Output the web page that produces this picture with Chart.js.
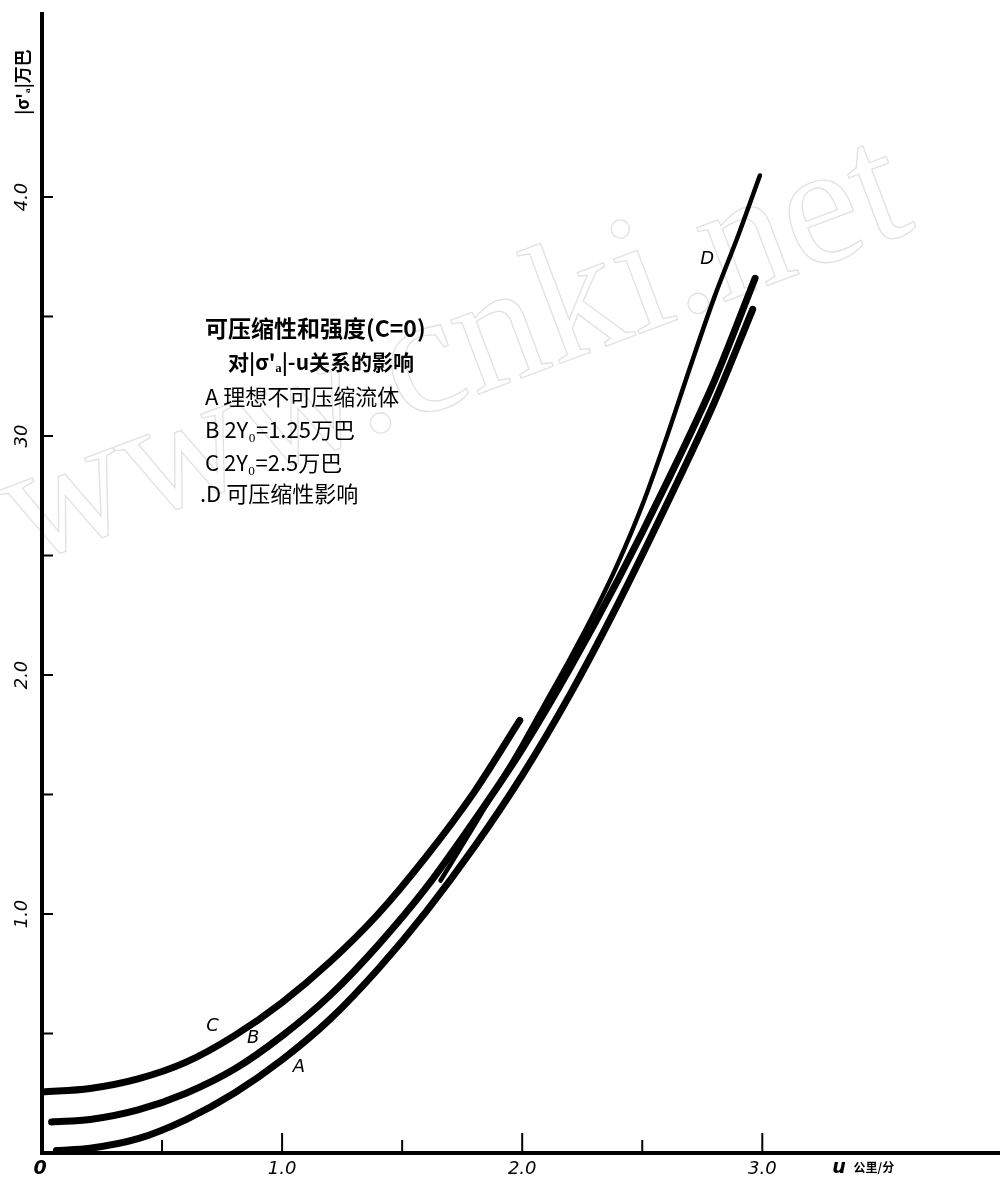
<!DOCTYPE html>
<html>
<head>
<meta charset="utf-8">
<title>可压缩性和强度 |σ|-u</title>
<script src="https://cdn.jsdelivr.net/npm/chart.js@4.4.0/dist/chart.umd.min.js"></script>
<style>
  html, body { margin: 0; padding: 0; background: #fff; }
  #wrap { width: 1000px; height: 1181px; position: relative; }
</style>
</head>
<body>
<div id="wrap"><canvas id="chart" width="1000" height="1181"></canvas></div>
<script>
// curves (u in 公里/分, |σ| in 万巴)
const aX = [0.06, 0.2, 0.4, 0.6, 0.8, 1.0, 1.2, 1.4, 1.6, 1.8, 2.0, 2.2, 2.4, 2.6, 2.8, 2.96];
const aY = [0.01, 0.02, 0.06, 0.14, 0.25, 0.39, 0.56, 0.77, 1.01, 1.28, 1.58, 1.92, 2.30, 2.71, 3.14, 3.53];
const bX = [0.04, 0.2, 0.4, 0.6, 0.8, 1.0, 1.2, 1.4, 1.6, 1.8, 2.0, 2.2, 2.4, 2.6, 2.8, 2.97];
const bY = [0.13, 0.14, 0.18, 0.25, 0.35, 0.49, 0.66, 0.87, 1.11, 1.39, 1.69, 2.03, 2.40, 2.80, 3.23, 3.66];
const cX = [0, 0.2, 0.4, 0.6, 0.8, 1.0, 1.2, 1.4, 1.6, 1.8, 1.99];
const cY = [0.255, 0.27, 0.31, 0.38, 0.49, 0.63, 0.80, 1.00, 1.24, 1.51, 1.81];
const dX = [1.66, 1.8, 1.9, 2.0, 2.1, 2.2, 2.3, 2.4, 2.5, 2.6, 2.7, 2.8, 2.9, 2.99];
const dY = [1.14, 1.37, 1.54, 1.71, 1.89, 2.07, 2.26, 2.47, 2.71, 2.99, 3.29, 3.58, 3.84, 4.09];

const xTickVals = [1, 2, 3];
const xTickLabels = ["1.0", "2.0", "3.0"];
const xMinorVals = [0.5, 1.5, 2.5];
const yTickVals = [1, 2, 3, 4];
const yTickLabels = ["1.0", "2.0", "30", "4.0"];
const yMinorVals = [0.5, 1.5, 2.5, 3.5];

const curveNames = ["A", "B", "C", "D"];
const curveLabelX = [1.07, 0.88, 0.71, 2.77];
const curveLabelY = [0.36, 0.48, 0.53, 3.74];

const noteLines = [
  "可压缩性和强度(C=0)",
  "对|σ'ₐ|-u关系的影响",
  "A 理想不可压缩流体",
  "B 2Y₀=1.25万巴",
  "C 2Y₀=2.5万巴",
  ".D 可压缩性影响"
];

function toPoints(xs, ys) {
  return xs.map((x, i) => ({x: x, y: ys[i]}));
}

function curve(label, xs, ys, width) {
  return {
    label: label,
    data: toPoints(xs, ys),
    borderColor: "#000",
    borderWidth: width,
    borderCapStyle: "round",
    pointRadius: 0,
    fill: false,
    cubicInterpolationMode: "monotone"
  };
}

const axesPlugin = {
  id: "handAxes",
  beforeDatasetsDraw(chart) {
    const ctx = chart.ctx;
    ctx.save();
    // faint watermark
    ctx.translate(25, 565);
    ctx.rotate(-0.36);
    ctx.font = "172px 'Liberation Serif'";
    ctx.strokeStyle = "#e2e2e2";
    ctx.lineWidth = 1.3;
    ctx.strokeText("www.cnki.net", 0, 0);
    ctx.restore();
  },
  afterDraw(chart) {
    const ctx = chart.ctx;
    const xs = chart.scales.x;
    const ys = chart.scales.y;
    const x0 = xs.getPixelForValue(0);
    const y0 = ys.getPixelForValue(0);

    ctx.save();
    ctx.strokeStyle = "#000";
    ctx.fillStyle = "#000";
    ctx.lineCap = "butt";

    // axes
    ctx.lineWidth = 4;
    ctx.beginPath();
    ctx.moveTo(x0, chart.chartArea.top);
    ctx.lineTo(x0, y0);
    ctx.lineTo(chart.chartArea.right, y0);
    ctx.stroke();

    // ticks pointing inward
    ctx.lineWidth = 2;
    xTickVals.forEach(v => {
      const px = xs.getPixelForValue(v);
      ctx.beginPath(); ctx.moveTo(px, y0); ctx.lineTo(px, y0 - 20); ctx.stroke();
    });
    xMinorVals.forEach(v => {
      const px = xs.getPixelForValue(v);
      ctx.beginPath(); ctx.moveTo(px, y0); ctx.lineTo(px, y0 - 13); ctx.stroke();
    });
    yTickVals.concat(yMinorVals).forEach(v => {
      const py = ys.getPixelForValue(v);
      ctx.beginPath(); ctx.moveTo(x0, py); ctx.lineTo(x0 + 11, py); ctx.stroke();
    });

    // x tick labels
    ctx.font = "italic 18px 'DejaVu Sans'";
    ctx.textAlign = "center";
    ctx.textBaseline = "middle";
    ctx.font = "bold italic 19px 'DejaVu Sans'";
    ctx.fillText("0", x0 - 2, y0 + 16);
    ctx.font = "italic 18px 'DejaVu Sans'";
    xTickVals.forEach((v, i) => {
      ctx.fillText(xTickLabels[i], xs.getPixelForValue(v), y0 + 16);
    });
    ctx.font = "bold italic 19px 'DejaVu Sans'";
    ctx.fillText("u", xs.getPixelForValue(3.32), y0 + 15);
    ctx.font = "bold 12px 'Noto Sans CJK SC'";
    ctx.textAlign = "left";
    ctx.fillText("公里/分", xs.getPixelForValue(3.38), y0 + 14);

    // y tick labels, rotated
    ctx.font = "italic 18px 'DejaVu Sans'";
    yTickVals.forEach((v, i) => {
      ctx.save();
      ctx.translate(x0 - 20, ys.getPixelForValue(v));
      ctx.rotate(-Math.PI / 2);
      ctx.textAlign = "center";
      ctx.fillText(yTickLabels[i], 0, 0);
      ctx.restore();
    });

    // y axis title
    ctx.save();
    ctx.translate(x0 - 19, 82);
    ctx.rotate(-Math.PI / 2);
    ctx.textAlign = "center";
    ctx.font = "bold 17px 'Noto Sans CJK SC'";
    ctx.fillText("|σ'ₐ|万巴", 0, 0);
    ctx.restore();

    // curve letters
    ctx.font = "italic 18px 'DejaVu Sans'";
    ctx.textAlign = "center";
    curveNames.forEach((n, i) => {
      ctx.fillText(n, xs.getPixelForValue(curveLabelX[i]), ys.getPixelForValue(curveLabelY[i]));
    });

    // note block
    ctx.textAlign = "left";
    const noteX = [205, 228, 205, 205, 205, 200];
    const noteY = [328, 362, 397, 430, 463, 494];
    const noteSize = [23, 21, 22, 22, 22, 22];
    noteLines.forEach((t, i) => {
      ctx.font = (i < 2 ? "bold " : "") + noteSize[i] + "px 'Noto Sans CJK SC'";
      ctx.fillText(t, noteX[i], noteY[i]);
    });

    ctx.restore();
  }
};

new Chart(document.getElementById("chart"), {
  type: "line",
  data: {
    datasets: [
      curve("A", aX, aY, 7),
      curve("B", bX, bY, 7),
      curve("C", cX, cY, 7),
      curve("D", dX, dY, 4.5)
    ]
  },
  options: {
    responsive: false,
    animation: false,
    layout: { padding: { left: 42, right: 0, top: 12, bottom: 28 } },
    plugins: { legend: { display: false }, tooltip: { enabled: false } },
    scales: {
      x: { type: "linear", min: 0, max: 3.99, display: false },
      y: { type: "linear", min: 0, max: 4.774, display: false }
    }
  },
  plugins: [axesPlugin]
});
</script>
</body>
</html>
